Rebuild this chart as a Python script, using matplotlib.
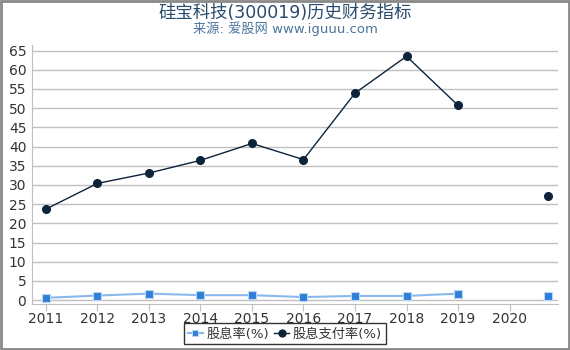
import matplotlib
matplotlib.use('Agg')
import matplotlib.pyplot as plt
import numpy as np

plt.rcParams['font.family'] = ['DejaVu Sans', 'Noto Sans CJK SC']

# data
years = [2011, 2012, 2013, 2014, 2015, 2016, 2017, 2018, 2019, 2020, 2020.75]
year_ticks = [2011, 2012, 2013, 2014, 2015, 2016, 2017, 2018, 2019, 2020]
yield_pct = [0.6, 1.2, 1.7, 1.3, 1.3, 0.8, 1.1, 1.1, 1.7, np.nan, 1.2]
payout_pct = [23.7, 30.4, 33.1, 36.4, 40.8, 36.6, 53.9, 63.5, 50.7, np.nan, 27.1]

title = '硅宝科技(300019)历史财务指标'
subtitle = '来源: 爱股网 www.iguuu.com'

fig = plt.figure(figsize=(5.7, 3.5), dpi=100)
ax = fig.add_axes([0.056, 0.131, 0.923, 0.74])

ax.plot(years, yield_pct, color='#8ab8ec', lw=1.5, marker='s', ms=5.5,
        mfc='#2f7ed8', mec='#bcd6f4', mew=0.8, label='股息率(%)', zorder=3)
ax.plot(years, payout_pct, color='#0d233a', lw=1, marker='o', ms=5.5,
        mfc='#0d233a', mec='#0d233a', label='股息支付率(%)', zorder=3)

ax.set_xlim(2010.73, 2020.94)
ax.set_ylim(-1.04, 66.4)
ax.set_yticks(range(0, 70, 5))
ax.set_xticks(year_ticks)
ax.grid(axis='y', color='#c0c0c0', lw=1)
ax.set_axisbelow(True)
for s in ['top', 'right']:
    ax.spines[s].set_visible(False)
ax.spines['left'].set_color('#c0c0c0')
ax.spines['bottom'].set_color('#c0c0c0')
ax.tick_params(axis='y', length=0, labelsize=10, labelcolor='#333333', pad=4)
ax.tick_params(axis='x', length=5, color='#c0c0c0', labelsize=10, labelcolor='#333333', pad=1)

fig.text(0.5, 0.962, title, ha='center', va='center', fontsize=12.5, color='#274b6d')
fig.text(0.5, 0.917, subtitle, ha='center', va='center', fontsize=9.5, color='#4d759e')

leg = ax.legend(loc='center', ncol=2, frameon=True, fontsize=9.5, handlelength=1.1,
                handletextpad=0.3, columnspacing=0.4, borderpad=0.3, borderaxespad=0,
                fancybox=False, markerscale=0.9)
leg.set_bbox_to_anchor((0.5, 0.046), transform=fig.transFigure)
leg.get_frame().set_edgecolor('black')
leg.get_frame().set_linewidth(1)
for t in leg.get_texts():
    t.set_color('#333333')

# outer border
fig.patches.append(plt.Rectangle((0.002, 0.003), 0.996, 0.994, transform=fig.transFigure,
                                 fill=False, edgecolor='#888888', lw=2))

fig.savefig('out.png', dpi=100)
